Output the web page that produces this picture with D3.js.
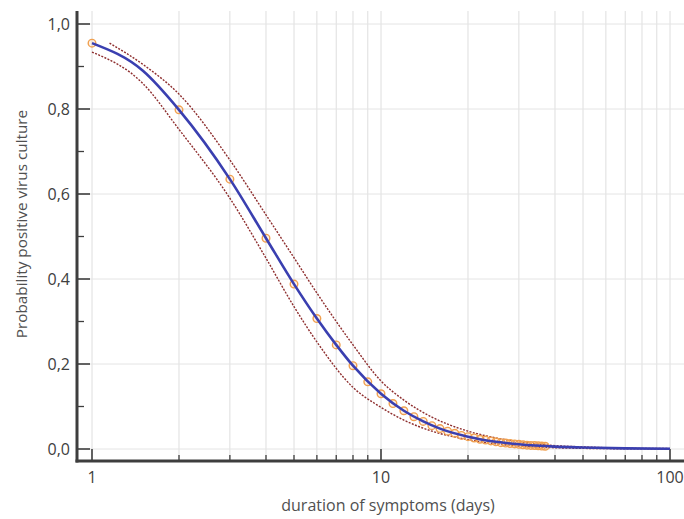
<!DOCTYPE html>
<html><head><meta charset="utf-8">
<script src="https://cdn.jsdelivr.net/npm/d3@7"></script>
<style>body{margin:0;background:#fff}svg{display:block}text{font-family:"Open Sans",sans-serif}</style>
</head><body><svg id="c" width="684" height="519"></svg>
<script>
// Observed points (days 1..37)
const obsDays = [1,2,3,4,5,6,7,8,9,10,11,12,13,14,15,16,17,18,19,20,21,22,23,24,25,26,27,28,29,30,31,32,33,34,35,36,37];
const obsProb = [0.955,0.798,0.635,0.496,0.388,0.307,0.245,0.196,0.158,0.130,0.107,0.090,0.076,0.065,0.055,0.048,0.042,0.037,0.032,0.029,0.026,0.023,0.021,0.019,0.017,0.015,0.014,0.013,0.012,0.011,0.010,0.009,0.0085,0.008,0.0075,0.007,0.0065];
// Fitted curve
const fitDays = [1,1.5,2,3,4,5,6,7,8,10,12,14,16,20,25,30,40,50,70,100];
const fitProb = [0.955,0.89,0.798,0.635,0.496,0.388,0.307,0.245,0.196,0.130,0.090,0.065,0.048,0.029,0.017,0.011,0.0055,0.0035,0.0015,0.0005];
// Confidence band
const upDays = [1.15,1.5,2,3,4,5,6,8,10,12,15,20,25,30,40,50,70,100];
const upProb = [0.955,0.905,0.835,0.68,0.551,0.45,0.367,0.245,0.16,0.115,0.075,0.042,0.026,0.017,0.008,0.005,0.002,0.001];
const loDays = [1,1.5,2,3,4,5,6,8,10,12,15,20,25,30,40,50,70,100];
const loProb = [0.934,0.86,0.752,0.59,0.449,0.335,0.252,0.145,0.098,0.068,0.042,0.022,0.012,0.007,0.003,0.0015,0.0005,0.0];
const yTicks = [0,0.2,0.4,0.6,0.8,1.0];
const yMinor = [0.1,0.3,0.5,0.7,0.9];
const xMajor = [1,10,100];
const xLabels = ["1","10","100"];
const xMinor = [2,3,4,5,6,7,8,9,20,30,40,50,60,70,80,90];

const svg = d3.select("#c");
const x = d3.scaleLog().domain([1,100]).range([92,670]);
const y = d3.scaleLinear().domain([0,1]).range([449,24]);
const pL = 77, pR = 684, pT = 11, pB = 461;

const g = svg.append("g");
// grid
g.selectAll(".vg").data(xMajor.concat(xMinor)).join("line")
  .attr("x1",d=>x(d)).attr("x2",d=>x(d)).attr("y1",pT).attr("y2",pB)
  .attr("stroke","#dedede").attr("stroke-width",1);
g.selectAll(".hg").data(yTicks).join("line")
  .attr("x1",pL).attr("x2",pR).attr("y1",d=>y(d)).attr("y2",d=>y(d))
  .attr("stroke","#e4e4e4").attr("stroke-width",1);

// ticks
const ax = "#3e3e3e";
g.selectAll(".yt").data(yTicks).join("line")
  .attr("x1",pL).attr("x2",pL+13).attr("y1",d=>y(d)).attr("y2",d=>y(d)).attr("stroke",ax).attr("stroke-width",1.6);
g.selectAll(".ym").data(yMinor).join("line")
  .attr("x1",pL).attr("x2",pL+7).attr("y1",d=>y(d)).attr("y2",d=>y(d)).attr("stroke",ax).attr("stroke-width",1.3);
g.selectAll(".xt").data(xMajor).join("line")
  .attr("x1",d=>x(d)).attr("x2",d=>x(d)).attr("y1",pB).attr("y2",pB-12).attr("stroke",ax).attr("stroke-width",1.6);
g.selectAll(".xm").data(xMinor).join("line")
  .attr("x1",d=>x(d)).attr("x2",d=>x(d)).attr("y1",pB).attr("y2",pB-6).attr("stroke",ax).attr("stroke-width",1.3);

// bands
const line = d3.line().x(d=>x(d[0])).y(d=>y(d[1])).curve(d3.curveMonotoneX);
const band = (xs,ys)=>xs.map((d,i)=>[d,ys[i]]);
[[upDays,upProb],[loDays,loProb]].forEach(([a,b])=>{
  g.append("path").attr("d",line(band(a,b))).attr("fill","none")
   .attr("stroke","#8e2e2e").attr("stroke-width",1.4).attr("stroke-dasharray","2,1.4");
});
// observed points
g.selectAll(".pt").data(band(obsDays,obsProb)).join("circle")
  .attr("cx",d=>x(d[0])).attr("cy",d=>y(d[1])).attr("r",3.8)
  .attr("fill","rgba(245,170,100,0.15)").attr("stroke","#f0a050").attr("stroke-width",1.4);
// fitted curve
g.append("path").attr("d",line(band(fitDays,fitProb))).attr("fill","none")
  .attr("stroke","#3a3fb0").attr("stroke-width",2.6);

// axes lines
g.append("line").attr("x1",pL).attr("x2",pL).attr("y1",pT).attr("y2",pB+1.5).attr("stroke",ax).attr("stroke-width",3);
g.append("line").attr("x1",pL-1.5).attr("x2",pR).attr("y1",pB).attr("y2",pB).attr("stroke",ax).attr("stroke-width",3);

// labels
const fmt = d3.format(".1f");
g.selectAll(".yl").data(yTicks).join("text")
  .attr("x",70).attr("y",d=>y(d)).attr("dy","0.36em").attr("text-anchor","end")
  .attr("font-size",16).attr("fill","#404040").text(d=>fmt(d).replace(".",","));
g.selectAll(".xl").data(xMajor).join("text")
  .attr("x",d=>x(d)).attr("y",477).attr("dy","0.36em").attr("text-anchor","middle")
  .attr("font-size",16).attr("fill","#404040").text((d,i)=>xLabels[i]);
g.append("text").attr("x",388).attr("y",505).attr("dy","0.36em").attr("text-anchor","middle")
  .attr("font-size",16).attr("fill","#505050").text("duration of symptoms (days)");
g.append("text").attr("transform","translate(21,224) rotate(-90)").attr("dy","0.36em").attr("text-anchor","middle")
  .attr("font-size",15.3).attr("fill","#505050").text("Probability positive virus culture");
</script></body></html>
